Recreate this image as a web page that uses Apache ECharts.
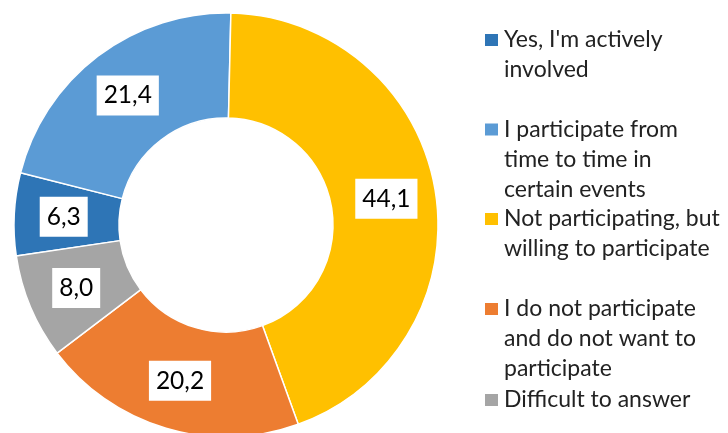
<!DOCTYPE html>
<html>
<head>
<meta charset="utf-8">
<script src="https://cdn.jsdelivr.net/npm/echarts@6/dist/echarts.min.js"></script>
<style>
  html, body { margin: 0; padding: 0; background: #fff; }
  #chart { width: 728px; height: 433px; }
</style>
</head>
<body>
<div id="chart"></div>
<script>
// Survey answers, in legend order (slices run clockwise in this order)
const categories = [
  "Yes, I'm actively involved",
  "I participate from time to time in certain events",
  "Not participating, but willing to participate",
  "I do not participate and do not want to participate",
  "Difficult to answer"
];
// Legend text, broken into lines
const legendLines = [
  ["Yes, I'm actively", "involved"],
  ["I participate from", "time to time in", "certain events"],
  ["Not participating, but", "willing to participate"],
  ["I do not participate", "and do not want to", "participate"],
  ["Difficult to answer"]
];
const shares = [6.3, 21.4, 44.1, 20.2, 8.0];
const colors = ['#2E75B6', '#5B9BD5', '#FFC000', '#ED7D31', '#A5A5A5'];
// vertical centre of each legend swatch
const legendCenters = [41, 130.5, 220, 310, 401];

const LH = 30;
const FONT = 'Lato, "Open Sans", sans-serif';

// Legend text is centred on its swatch; blank lines in front keep the
// swatch level with the first line of a wrapped entry. The legend box
// starts at the top of the (padded) text block.
const legends = categories.map((name, i) => {
  const n = legendLines[i].length;
  const blank = new Array(n - 1).fill('');
  return {
    data: [name],
    left: 483,
    top: legendCenters[i] - (2 * n - 1) * LH / 2 - 1,
    padding: 0,
    orient: 'vertical',
    icon: 'rect',
    itemWidth: 15,
    itemHeight: 14,
    selectedMode: false,
    formatter: () => blank.concat(legendLines[i]).join('\n'),
    textStyle: {
      fontFamily: FONT,
      fontSize: 23,
      color: '#222',
      lineHeight: LH
    }
  };
});

const chart = echarts.init(document.getElementById('chart'), null, { renderer: 'canvas' });
chart.setOption({
  backgroundColor: '#fff',
  animation: false,
  color: colors,
  legend: legends,
  series: [{
    type: 'pie',
    center: [226, 225],
    radius: [107, 212],
    startAngle: 188.4,
    clockwise: true,
    avoidLabelOverlap: false,
    itemStyle: { borderColor: '#fff', borderWidth: 1.5 },
    label: {
      show: true,
      position: 'inside',
      formatter: p => p.value.toFixed(1).replace('.', ','),
      fontFamily: FONT,
      fontSize: 24.5,
      lineHeight: 24,
      color: '#000',
      backgroundColor: '#fff',
      padding: [10, 7, 6, 7]
    },
    labelLine: { show: false },
    emphasis: { disabled: true },
    data: categories.map((name, i) => ({ name, value: shares[i] }))
  }]
});
</script>
</body>
</html>
